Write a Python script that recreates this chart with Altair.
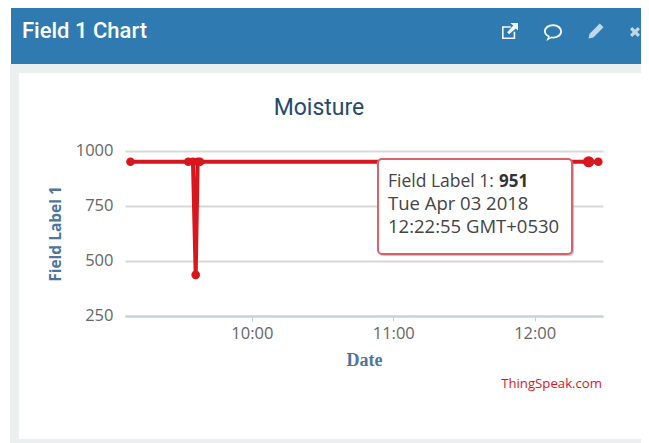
import altair as alt
import pandas as pd

# Data
times = ["2018-04-03T09:08:30", "2018-04-03T09:33:00", "2018-04-03T09:35:00", "2018-04-03T09:36:10",
         "2018-04-03T09:37:00", "2018-04-03T09:38:00", "2018-04-03T12:22:55", "2018-04-03T12:27:00"]
values = [951, 951, 951, 437, 951, 951, 951, 951]
x_ticks = ["2018-04-03T10:00:00", "2018-04-03T11:00:00", "2018-04-03T12:00:00"]
y_ticks = [250, 500, 750, 1000]
x_domain = ["2018-04-03T09:06:10", "2018-04-03T12:29:00"]
hover_time = ["2018-04-03T12:22:55"]
hover_value = [951]

RED = "#d8161e"
one = pd.DataFrame({"k": [0]})
OX, OY = 117, 143  # plot origin within the canvas


def rect(x0, y0, x1, y1, **kw):
    return alt.Chart(one).mark_rect(**kw).encode(
        x=alt.value(x0 - 8 - OX), x2=alt.value(x1 - 8 - OX),
        y=alt.value(y0 - 8 - OY), y2=alt.value(y1 - 8 - OY))


def text(s, x, y, **kw):
    return alt.Chart(one).mark_text(text=s, align=kw.pop("align", "left"), baseline="middle", **kw).encode(
        x=alt.value(x - 8 - OX), y=alt.value(y - 8 - OY))


def icon(path, x, y, size, **kw):
    return alt.Chart(one).mark_point(shape=path, size=size, **kw).encode(
        x=alt.value(x - 8 - OX), y=alt.value(y - 8 - OY))


df = pd.DataFrame({"t": times, "v": values})
x_enc = alt.X("t:T", scale=alt.Scale(domain=x_domain),
              axis=alt.Axis(values=x_ticks, format="%H:%M", title="Date", grid=False,
                            domainColor="#c0d0e0", domainWidth=2, tickColor="#c0d0e0", tickSize=5,
                            labelColor="#666666", labelFont="Open Sans", labelFontSize=16.5, labelPadding=4,
                            titleColor="#4d759e", titleFont="Liberation Serif", titleFontSize=18,
                            titleFontWeight="bold", titlePadding=10, labelFlush=False))
y_enc = alt.Y("v:Q", scale=alt.Scale(domain=[250, 1000], nice=False),
              axis=alt.Axis(values=y_ticks, format="d", title="Field Label 1", domain=False, ticks=False,
                            gridColor="#d8d8d8", gridWidth=2, labelColor="#666666", labelFont="Open Sans",
                            labelFontSize=16.5, labelPadding=12, labelBaseline="middle", labelOffset=-1,
                            titleColor="#4d759e", titleFont="Open Sans", titleFontSize=15.5,
                            titleFontWeight="bold", titleX=-62))

line = alt.Chart(df).mark_line(color=RED, strokeWidth=4).encode(x=x_enc, y=y_enc)
pts = alt.Chart(df).mark_circle(color=RED, size=75, opacity=1).encode(x="t:T", y="v:Q")
hover = alt.Chart(pd.DataFrame({"t": hover_time, "v": hover_value})).mark_circle(
    color=RED, size=125, opacity=1).encode(x="t:T", y="v:Q")

ext = "M-1 -0.6 L0.1 -0.6 L0.1 -0.4 L-0.8 -0.4 L-0.8 0.8 L0.45 0.8 L0.45 0.1 L0.65 0.1 L0.65 1 L-1 1 Z M0.05 -1 L1 -1 L1 -0.05 L0.72 -0.32 L-0.12 0.42 L-0.35 0.15 L0.42 -0.68 Z"
bub = "M0 -0.85 C0.6 -0.85 1 -0.5 1 -0.05 C1 0.4 0.6 0.72 0 0.72 L-0.2 0.7 L-0.75 1 L-0.55 0.55 C-0.85 0.4 -1 0.2 -1 -0.05 C-1 -0.5 -0.6 -0.85 0 -0.85 Z M0 -0.65 C-0.5 -0.65 -0.8 -0.35 -0.8 -0.05 C-0.8 0.15 -0.65 0.32 -0.35 0.45 L-0.42 0.65 L-0.15 0.5 L0 0.52 C0.5 0.52 0.8 0.2 0.8 -0.05 C0.8 -0.35 0.5 -0.65 0 -0.65 Z"
pen = "M0.5 -1 L1 -0.5 L-0.35 0.85 L-1 1 L-0.85 0.35 Z"
cross = "M-0.55 -1 L0 -0.45 L0.55 -1 L1 -0.55 L0.45 0 L1 0.55 L0.55 1 L0 0.45 L-0.55 1 L-1 0.55 L-0.45 0 L-1 -0.55 Z"

layers = [
    rect(10, 64, 641, 73, color="#ecefef"),
    rect(10, 73, 19, 443, color="#ecefef"),
    rect(10, 439, 641, 443, color="#ecefef"),
    rect(11, 8, 641, 64, color="#2f7bb1"),
    text("Field 1 Chart", 22, 31, color="white", font="Roboto", fontSize=22, fontWeight=500),
    icon(ext, 510, 31, 256, filled=True, color="white", strokeWidth=0, fillOpacity=0.95),
    icon(bub, 553, 32, 324, filled=True, color="white", strokeWidth=0, fillOpacity=0.95),
    icon(pen, 596, 31, 225, filled=True, color="white", strokeWidth=0),
    icon(cross, 635, 32, 100, filled=True, color="white", strokeWidth=0),
    text("Moisture", 319, 108, align="center", color="#274b6d", font="Roboto", fontSize=23),
    line, pts, hover,
    rect(379, 161, 574, 256, color="#888888", opacity=0.45, cornerRadius=4),
    rect(378, 159, 572, 254, fill="white", stroke="#d9636a", strokeWidth=2, cornerRadius=4),
    text("Field Label 1:", 388, 182, color="#444444", font="Open Sans", fontSize=17.5),
    text("951", 499, 182, color="#333333", font="Open Sans", fontSize=17, fontWeight="bold"),
    text("Tue Apr 03 2018", 388, 204, color="#444444", font="Open Sans", fontSize=18.5),
    text("12:22:55 GMT+0530", 388, 227, color="#444444", font="Open Sans", fontSize=18.5),
    text("ThingSpeak.com", 602, 384, align="right", color="#d8161e", font="Open Sans", fontSize=13.2),
]

chart = alt.layer(*layers).properties(
    width=478, height=165,
    autosize=alt.AutoSizeParams(type="none"),
    padding={"left": OX, "top": OY, "right": 38, "bottom": 127},
    background="white",
).configure_view(stroke=None)

chart.save("out.html", embed_options={"renderer": "svg", "actions": False})
